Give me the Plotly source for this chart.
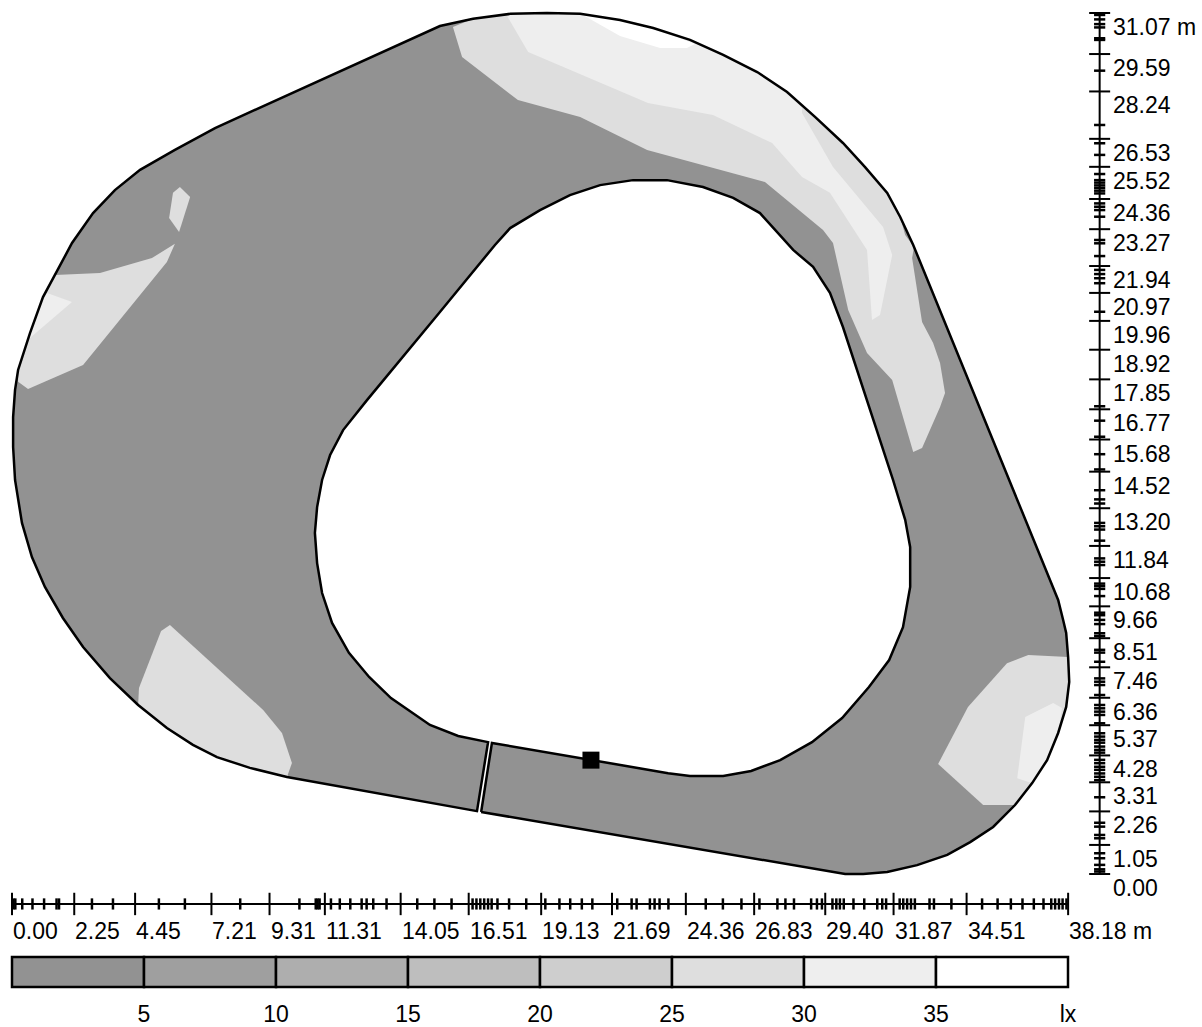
import plotly.graph_objects as go

# ---- room outline (metres), one closed C-shaped loop with the slit at the door
ring_x = [16.96, 29.57, 30.12, 30.77, 31.64, 32.72, 33.81, 34.64, 35.47, 36.26, 36.88, 37.42, 37.82, 38.11, 38.22, 38.18, 38.11, 38.00, 37.82,
          32.58, 32.11, 31.64, 30.84, 30.04, 29.03, 28.02, 26.94, 25.71, 24.51, 23.18, 21.98, 20.54, 19.34, 18.01, 16.67, 15.47,
          7.34, 5.89, 4.63, 3.72, 2.93, 2.17, 1.55, 1.12, 0.65, 0.22, 0.11, 0.04, 0.04, 0.11, 0.36, 0.72, 1.19, 1.84, 2.57, 3.54,
          4.56, 5.60, 6.54, 7.41, 8.60, 9.94, 16.81,
          17.21, 16.13, 15.11, 13.70, 12.91, 12.18, 11.57, 11.21, 11.03, 10.95, 11.03, 11.21, 11.50, 11.97, 12.84, 15.47, 17.46,
          18.01, 19.09, 20.17, 21.26, 22.45, 23.68, 24.98, 26.07, 27.04, 28.24, 28.96, 29.57, 30.04, 31.85, 32.29,
          32.47, 32.47, 32.21, 31.71, 30.98, 30.01, 28.92, 27.77, 26.72, 25.71, 24.51, 23.72, 17.35, 16.96]
ring_y = [2.24, 0.11, 0.00, 0.00, 0.07, 0.32, 0.69, 1.15, 1.70, 2.49, 3.28, 4.11, 5.09, 6.03, 6.93, 7.83, 8.70, 9.17, 9.89,
          22.70, 23.71, 24.58, 25.51, 26.38, 27.32, 28.22, 28.94, 29.56, 30.10, 30.53, 30.82, 31.04, 31.07, 31.04, 30.86, 30.60,
          26.92, 26.13, 25.41, 24.68, 23.85, 22.77, 21.62, 20.82, 19.52, 18.19, 17.47, 16.49, 15.41, 14.22, 12.67, 11.44, 10.36, 9.24, 8.19, 7.07,
          6.10, 5.27, 4.66, 4.22, 3.83, 3.50, 2.27,
          4.76, 4.98, 5.38, 6.35, 7.11, 7.98, 9.06, 10.14, 11.22, 12.31, 13.24, 14.22, 15.12, 16.02, 17.11, 20.28, 22.70,
          23.31, 23.96, 24.50, 24.86, 25.04, 25.04, 24.79, 24.40, 23.85, 22.52, 21.91, 20.97, 19.74, 14.22, 12.78,
          11.80, 10.36, 8.91, 7.72, 6.75, 5.63, 4.76, 4.11, 3.72, 3.54, 3.54, 3.64, 4.73, 2.24]

# ---- illuminance isoline regions
band30_x = [15.94, 16.67, 18.01, 19.34, 20.54, 21.98, 23.18, 24.51, 25.71, 26.94, 28.02, 29.03, 30.04, 30.84, 31.64, 32.11, 32.29, 32.61, 32.54,
            32.90, 33.30, 33.55, 33.73, 33.55, 32.90, 32.58, 31.82, 30.91, 30.23, 29.68, 29.32, 27.22, 22.96, 20.54, 18.29, 16.27]
band30_y = [30.57, 30.86, 31.04, 31.07, 31.04, 30.82, 30.53, 30.10, 29.56, 28.94, 28.22, 27.32, 26.38, 25.51, 24.58, 23.71, 23.06, 22.63, 22.23,
            19.92, 19.16, 18.44, 17.36, 16.85, 15.37, 15.23, 17.83, 18.80, 20.35, 22.77, 23.24, 24.97, 26.13, 27.32, 27.93, 29.48]
band35_x = [17.90, 18.01, 19.34, 20.54, 21.98, 23.18, 24.51, 25.71, 26.94, 28.02, 28.56, 28.56, 29.68, 31.49, 31.82, 31.38, 31.09,
            30.91, 29.57, 28.56, 27.48, 25.34, 22.99, 18.66]
band35_y = [30.96, 31.04, 31.07, 31.04, 30.82, 30.53, 30.10, 29.56, 28.94, 28.22, 27.64, 27.46, 25.51, 23.35, 22.34, 20.17, 19.99,
            22.52, 24.58, 25.15, 26.38, 27.39, 27.82, 29.66]
top_x = [20.64, 21.98, 23.18, 24.69, 24.40, 23.43, 21.98]
top_y = [31.00, 30.82, 30.53, 29.95, 29.81, 29.81, 30.24]
left30_x = [1.55, 3.18, 5.06, 5.89, 5.60, 2.57, 0.58, 0.22, 0.22, 0.65, 1.12]
left30_y = [21.62, 21.69, 22.23, 22.74, 22.09, 18.37, 17.50, 17.76, 18.19, 19.52, 20.82]
left35_x = [1.27, 2.17, 0.65, 0.65, 1.12]
left35_y = [20.97, 20.64, 19.34, 19.52, 20.82]
spot_x = [6.07, 6.44, 6.04, 5.68, 5.82]
spot_y = [24.79, 24.43, 23.17, 23.67, 24.58]
south_x = [5.71, 5.39, 4.59, 4.56, 5.60, 6.54, 7.41, 8.60, 9.94, 10.12, 9.76, 9.08]
south_y = [8.99, 8.77, 6.71, 6.10, 5.27, 4.66, 4.22, 3.83, 3.50, 4.01, 5.09, 5.92]
east30_x = [36.74, 38.18, 38.22, 38.11, 37.82, 37.42, 36.88, 36.26, 35.11, 33.48, 34.56, 35.97]
east30_y = [7.90, 7.83, 6.93, 6.03, 5.09, 4.11, 3.28, 2.49, 2.49, 3.97, 6.03, 7.61]
east35_x = [37.64, 37.96, 37.82, 37.42, 36.88, 36.34, 36.63]
east35_y = [6.17, 5.99, 5.09, 4.11, 3.28, 3.46, 5.67]
luminaire_x = [20.93]
luminaire_y = [4.11]

# ---- rulers
x_major = [0.00, 2.25, 4.45, 7.21, 9.31, 11.31, 14.05, 16.51, 19.13, 21.69, 24.36, 26.83, 29.40, 31.87, 34.51, 38.18]
x_major_text = ["0.00", "2.25", "4.45", "7.21", "9.31", "11.31", "14.05", "16.51", "19.13", "21.69", "24.36", "26.83",
                "29.40", "31.87", "34.51", "38.18 m"]
x_minor = [0.05, 0.12, 0.37, 0.74, 1.16, 1.61, 1.70, 2.89, 3.65, 5.31, 6.25, 8.25, 10.39, 10.98, 11.05, 11.12, 11.53, 11.85,
           12.23, 12.64, 12.82, 13.06, 13.54, 14.65, 15.27, 15.89, 16.65, 16.79, 16.93, 17.07, 17.21, 17.34, 17.55, 17.97,
           18.59, 19.28, 19.79, 20.18, 20.60, 20.98, 21.88, 22.40, 22.58, 23.06, 23.23, 23.41, 23.73, 25.08, 25.70, 26.37,
           27.02, 27.67, 27.96, 28.27, 28.89, 29.10, 29.28, 29.66, 29.80, 29.93, 30.07, 30.42, 30.81, 31.28, 31.46, 31.60,
           32.09, 32.22, 32.36, 32.50, 32.64, 33.17, 33.33, 33.96, 35.07, 35.63, 36.11, 36.53, 36.94, 37.29, 37.57, 37.71,
           37.85, 37.98, 38.12]
y_major = [0.00, 1.05, 2.26, 3.31, 4.28, 5.37, 6.36, 7.46, 8.51, 9.66, 10.68, 11.84, 13.20, 14.52, 15.68, 16.77, 17.85,
           18.92, 19.96, 20.97, 21.94, 23.27, 24.36, 25.52, 26.53, 28.24, 29.59, 31.07]
y_major_text = ["0.00", "1.05", "2.26", "3.31", "4.28", "5.37", "6.36", "7.46", "8.51", "9.66", "10.68", "11.84", "13.20",
                "14.52", "15.68", "16.77", "17.85", "18.92", "19.96", "20.97", "21.94", "23.27", "24.36", "25.52", "26.53",
                "28.24", "29.59", "31.07 m"]
y_minor = [31.00, 30.84, 30.67, 30.55, 30.16, 30.10, 28.99, 27.03, 26.37, 25.95, 25.26, 25.04, 24.95, 24.85, 24.76, 24.66,
           24.56, 24.20, 24.08, 23.96, 23.72, 22.88, 22.76, 22.30, 21.80, 21.65, 21.50, 21.32, 20.29, 16.88, 16.36, 15.78,
           15.15, 14.60, 13.85, 13.52, 13.37, 12.67, 12.55, 12.43, 12.03, 11.39, 11.27, 11.15, 10.48, 10.39, 10.29, 10.03,
           9.43, 9.34, 9.17, 9.02, 8.69, 8.59, 8.09, 7.99, 7.66, 7.06, 6.94, 6.82, 6.46, 6.10, 5.98, 5.86, 5.74, 5.44, 5.08,
           4.96, 4.84, 4.74, 4.60, 4.48, 4.38, 4.12, 4.00, 3.87, 3.76, 3.63, 3.51, 3.39, 2.77, 1.85, 1.71, 1.41, 1.29, 0.75,
           0.57, 0.33, 0.17, 0.09]
x_ruler_at = -1.08
y_ruler_at = 39.32

# ---- colour scale
lux_edges = [0, 5, 10, 15, 20, 25, 30, 35]
lux_step = [5, 5, 5, 5, 5, 5, 5, 5]
lux_colors = ["#929292", "#9f9f9f", "#aeaeae", "#bebebe", "#cecece", "#dedede", "#eeeeee", "#ffffff"]
lux_ticks = [5, 10, 15, 20, 25, 30, 35, 40]
lux_text = ["5", "10", "15", "20", "25", "30", "35", "lx"]

FONT = "Liberation Sans, Arial, sans-serif"
INK = "#000000"
SIZE = 23

fig = go.Figure()
fig.add_trace(go.Scatter(x=ring_x, y=ring_y, mode="lines", fill="toself", fillcolor=lux_colors[0],
                         line=dict(width=0), hoverinfo="skip"))
for xs, ys, c in [(band30_x, band30_y, lux_colors[5]), (band35_x, band35_y, lux_colors[6]), (top_x, top_y, lux_colors[7]),
                  (left30_x, left30_y, lux_colors[5]), (left35_x, left35_y, lux_colors[6]), (spot_x, spot_y, lux_colors[5]),
                  (south_x, south_y, lux_colors[5]), (east30_x, east30_y, lux_colors[5]), (east35_x, east35_y, lux_colors[6])]:
    fig.add_trace(go.Scatter(x=xs, y=ys, mode="lines", fill="toself", fillcolor=c, line=dict(width=0), hoverinfo="skip"))
fig.add_trace(go.Scatter(x=ring_x, y=ring_y, mode="lines", line=dict(color=INK, width=2.5), hoverinfo="skip"))
fig.add_trace(go.Scatter(x=luminaire_x, y=luminaire_y, mode="markers",
                         marker=dict(symbol="square", size=17, color=INK, line=dict(width=0))))

# rulers
fig.add_trace(go.Scatter(x=[x_major[0], x_major[-1]], y=[x_ruler_at, x_ruler_at], mode="lines", line=dict(color=INK, width=2)))
fig.add_trace(go.Scatter(x=[y_ruler_at, y_ruler_at], y=[y_major[0], y_major[-1]], mode="lines", line=dict(color=INK, width=2)))
fig.add_trace(go.Scatter(x=x_major, y=[x_ruler_at] * len(x_major), mode="markers",
                         marker=dict(symbol="line-ns", size=16, line=dict(color=INK, width=2))))
fig.add_trace(go.Scatter(x=x_minor, y=[x_ruler_at] * len(x_minor), mode="markers",
                         marker=dict(symbol="line-ns", size=8, line=dict(color=INK, width=2.5))))
fig.add_trace(go.Scatter(x=[y_ruler_at] * len(y_major), y=y_major, mode="markers",
                         marker=dict(symbol="line-ew", size=15, line=dict(color=INK, width=2))))
fig.add_trace(go.Scatter(x=[y_ruler_at] * len(y_minor), y=y_minor, mode="markers",
                         marker=dict(symbol="line-ew", size=8, line=dict(color=INK, width=2.5))))

# colour scale strip
fig.add_trace(go.Bar(x=lux_step, base=lux_edges, y=[0] * 8, orientation="h", width=1, xaxis="x2", yaxis="y2",
                     marker=dict(color=lux_colors, line=dict(color=INK, width=2.5))))

annotations = []
for v, t in zip(x_major, x_major_text):
    annotations.append(dict(x=v, y=x_ruler_at, xref="x", yref="y", text=t, showarrow=False, xanchor="left", yanchor="middle",
                            xshift=-1, yshift=-27, font=dict(family=FONT, size=SIZE, color=INK)))
for v, t in zip(y_major, y_major_text):
    annotations.append(dict(x=y_ruler_at, y=v, xref="x", yref="y", text=t, showarrow=False, xanchor="left", yanchor="middle",
                            xshift=11, yshift=-14, font=dict(family=FONT, size=SIZE, color=INK)))

H = 1027.0
W = 1202.0
fig.update_layout(
    width=1202, height=1027, margin=dict(l=0, r=0, t=0, b=0, autoexpand=False), showlegend=False,
    paper_bgcolor="white", plot_bgcolor="white", barmode="overlay",
    font=dict(family=FONT, size=SIZE, color=INK), annotations=annotations,
    xaxis=dict(domain=[0, 1], range=[-0.434, 43.02], visible=False, fixedrange=True),
    yaxis=dict(domain=[0, 1], range=[-5.52, 31.54], visible=False, fixedrange=True),
    xaxis2=dict(domain=[10 / W, 1070 / W], range=[-0.0757, 40.0757], anchor="y2", tickmode="array", tickvals=lux_ticks,
                ticktext=lux_text, ticks="outside", ticklen=4, tickcolor="rgba(0,0,0,0)", showgrid=False, zeroline=False,
                showline=False, fixedrange=True, automargin=False, tickfont=dict(family=FONT, size=SIZE, color=INK)),
    yaxis2=dict(domain=[1 - 989 / H, 1 - 955 / H], range=[-0.5667, 0.5667], anchor="x2", visible=False, fixedrange=True),
)
fig.write_html("out.html", config=dict(displayModeBar=False), post_script="document.body.style.margin='0';")
